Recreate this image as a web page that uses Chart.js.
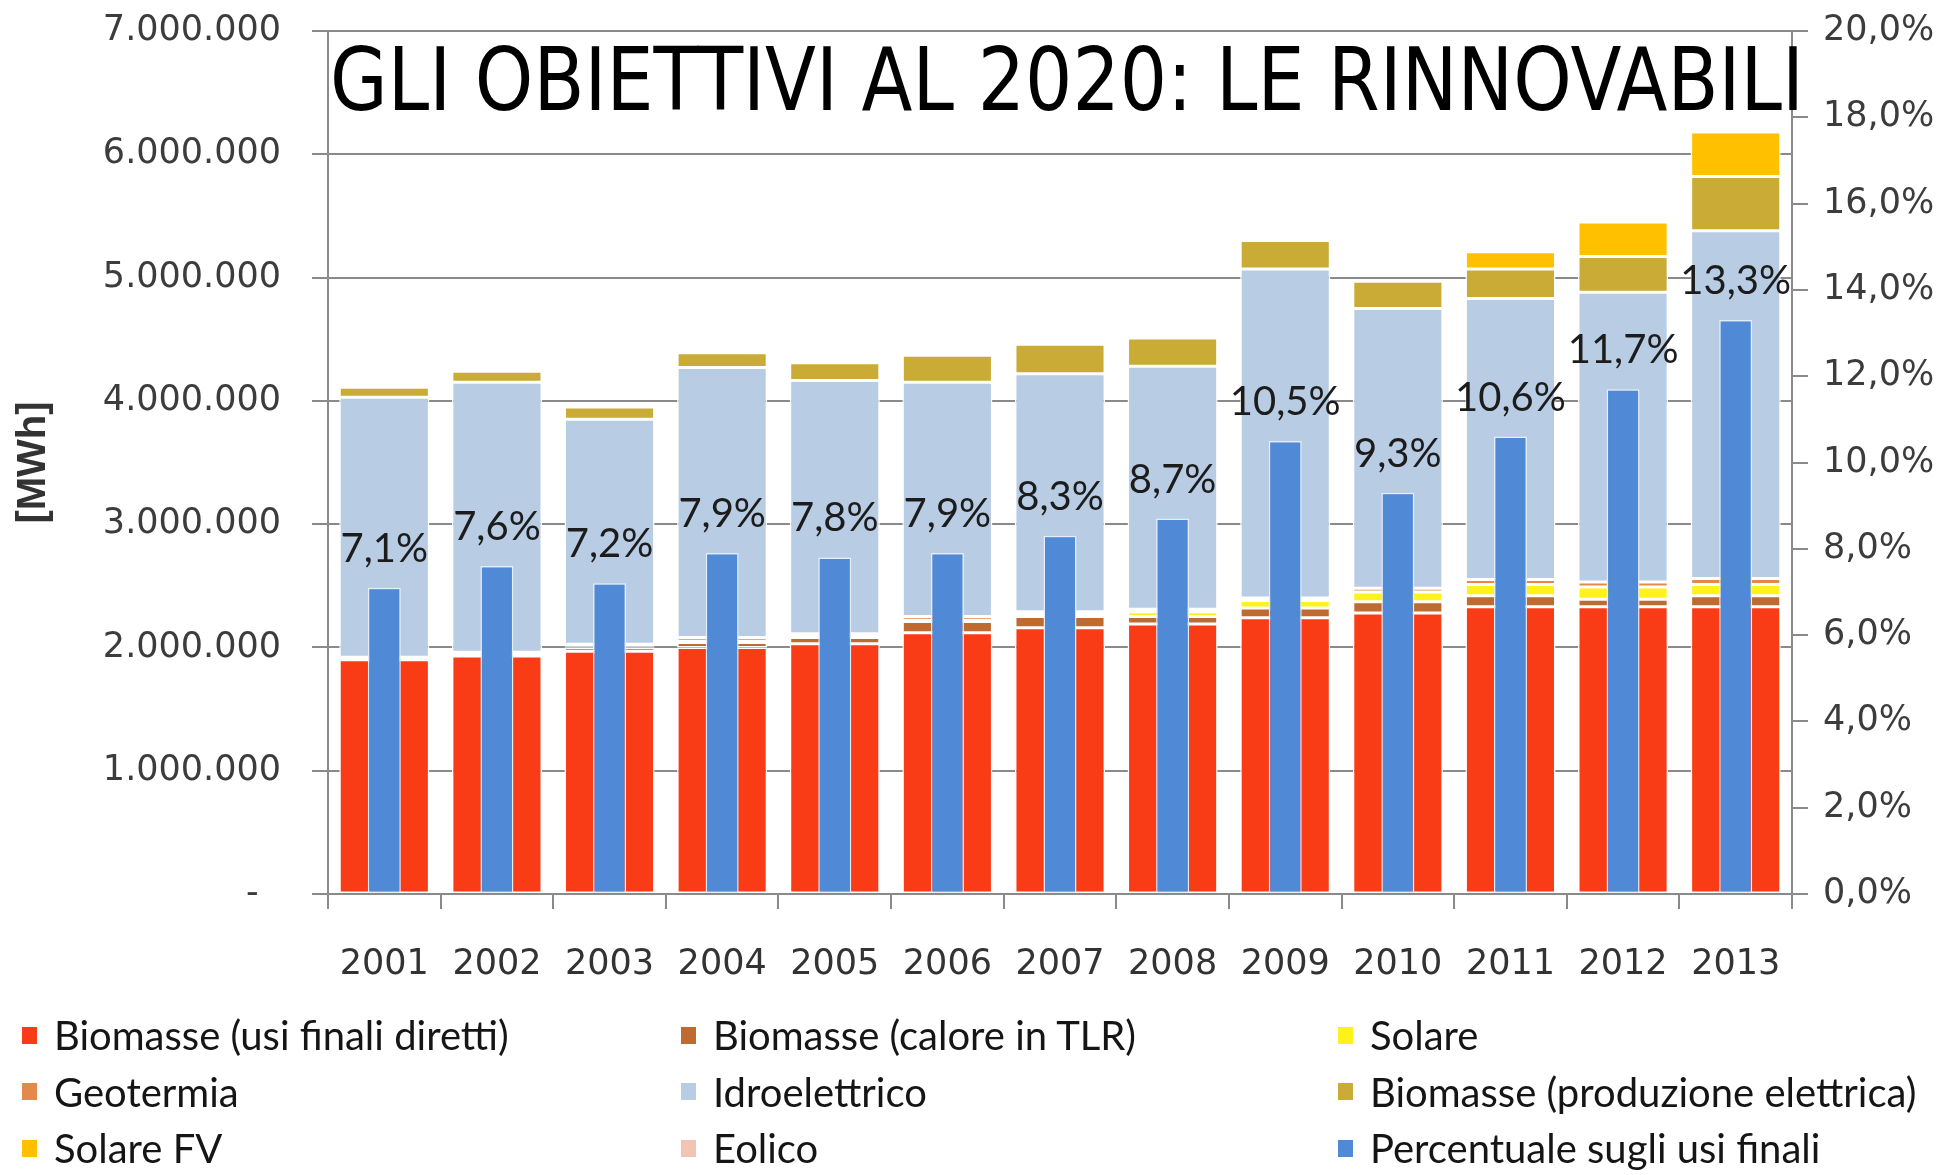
<!DOCTYPE html>
<html>
<head>
<meta charset="utf-8">
<title>Gli obiettivi al 2020: le rinnovabili</title>
<script src="https://cdn.jsdelivr.net/npm/chart.js@4.4.1/dist/chart.umd.min.js"></script>
<style>
  html, body { margin: 0; padding: 0; background: #fff; }
  #wrap { position: relative; width: 1955px; height: 1175px; overflow: hidden; }
  #chart { position: absolute; left: 0; top: 0; }
  #legend {
    position: absolute; left: 22px; top: 1007px;
    display: grid; grid-template-columns: 659px 657px 600px; grid-auto-rows: 56.5px;
    font-family: Lato, sans-serif; font-size: 40px; color: #151515;
  }
  .item { display: flex; align-items: center; white-space: nowrap; }
  .box { width: 15px; height: 17px; margin-right: 17px; flex: none; }
</style>
</head>
<body>
<div id="wrap">
  <canvas id="chart" width="1955" height="1175"></canvas>
  <div id="legend"></div>
</div>
<script>
const years = ['2001', '2002', '2003', '2004', '2005', '2006', '2007', '2008', '2009', '2010', '2011', '2012', '2013'];

// MWh
const biomasseDiretti = [1900000, 1930000, 1970000, 2000000, 2030000, 2120000, 2160000, 2190000, 2240000, 2280000, 2330000, 2330000, 2330000];
const biomasseTLR = [0, 0, 30000, 40000, 50000, 90000, 90000, 60000, 80000, 90000, 90000, 60000, 90000];
const solare = [5000, 10000, 5000, 10000, 10000, 10000, 20000, 40000, 60000, 80000, 90000, 100000, 90000];
const geotermia = [15000, 20000, 20000, 30000, 20000, 30000, 20000, 20000, 20000, 30000, 40000, 40000, 50000];
const idroelettrico = [2110000, 2190000, 1825000, 2190000, 2055000, 1900000, 1930000, 1970000, 2670000, 2270000, 2280000, 2350000, 2820000];
const biomasseElettrica = [80000, 90000, 100000, 120000, 145000, 220000, 240000, 230000, 230000, 220000, 240000, 290000, 440000];
const solareFV = [0, 0, 0, 0, 0, 0, 0, 0, 5000, 10000, 140000, 280000, 360000];
const eolico = [0, 0, 0, 0, 0, 0, 0, 0, 0, 0, 0, 0, 0];

// % on final uses (right axis)
const percentuale = [7.1, 7.6, 7.2, 7.9, 7.8, 7.9, 8.3, 8.7, 10.5, 9.3, 10.6, 11.7, 13.3];

const titleText = 'GLI OBIETTIVI AL 2020: LE RINNOVABILI';
const gridColor = '#8a8a8a';
const tickFont = { family: 'DejaVu Sans', size: 35 };

function itNumber(v) {
    return String(Math.round(v)).replace(/\B(?=(\d{3})+(?!\d))/g, '.');
}
function itPct(v, digits) {
    return v.toFixed(digits).replace('.', ',') + '%';
}

function stackSet(label, data, color) {
    return {
        label: label, data: data, backgroundColor: color,
        borderColor: '#ffffff', borderWidth: 1.5, borderSkipped: false,
        stack: 'mwh', yAxisID: 'y', grouped: false, order: 1,
        barPercentage: 0.8, categoryPercentage: 1.0
    };
}

const pctLabels = {
    id: 'pctLabels',
    afterDatasetsDraw(chart) {
        const ctx = chart.ctx;
        const idx = chart.data.datasets.findIndex(d => d.stack === 'pct');
        const meta = chart.getDatasetMeta(idx);
        ctx.save();
        ctx.font = '40px Lato';
        ctx.fillStyle = '#1c1c1c';
        ctx.textAlign = 'center';
        ctx.textBaseline = 'middle';
        meta.data.forEach((bar, i) => {
            ctx.fillText(itPct(percentuale[i], 1), bar.x, bar.y - 39);
        });
        ctx.restore();
    }
};

const bigTitle = {
    id: 'bigTitle',
    afterDraw(chart) {
        const ctx = chart.ctx;
        ctx.save();
        ctx.font = '500 88px "DejaVu Sans"';
        ctx.fillStyle = '#000';
        ctx.textBaseline = 'alphabetic';
        const w = ctx.measureText(titleText).width;
        ctx.translate(330, 110);
        ctx.scale(1474 / w, 1);
        ctx.fillText(titleText, 0, 0);
        ctx.restore();
    }
};

// tick padding also pushes the plot down in chart.js, keep only half a label
function trimPadding(s) {
    s.paddingTop = 21;
    s.paddingBottom = 21;
}

const chart = new Chart(document.getElementById('chart'), {
    type: 'bar',
    data: {
        labels: years,
        datasets: [
            stackSet('Biomasse (usi finali diretti)', biomasseDiretti, '#fa3c16'),
            stackSet('Biomasse (calore in TLR)', biomasseTLR, '#bf6a30'),
            stackSet('Solare', solare, '#fff21a'),
            stackSet('Geotermia', geotermia, '#e4894b'),
            stackSet('Idroelettrico', idroelettrico, '#b8cce4'),
            stackSet('Biomasse (produzione elettrica)', biomasseElettrica, '#c9ab35'),
            stackSet('Solare FV', solareFV, '#ffc000'),
            stackSet('Eolico', eolico, '#f2c4b2'),
            {
                label: 'Percentuale sugli usi finali', data: percentuale,
                backgroundColor: '#5089d6', borderColor: '#e4eefa', borderWidth: 1.5, borderSkipped: false,
                stack: 'pct', yAxisID: 'y1', grouped: false, order: 0,
                barPercentage: 0.293, categoryPercentage: 1.0
            }
        ]
    },
    options: {
        responsive: false,
        animation: false,
        layout: { padding: { top: 31, right: 0, bottom: 175, left: 0 } },
        plugins: {
            legend: { display: false },
            tooltip: { enabled: false }
        },
        scales: {
            x: {
                stacked: true,
                grid: { offset: true, drawOnChartArea: false, tickLength: 15, color: gridColor, lineWidth: 2 },
                border: { color: gridColor, width: 2 },
                ticks: { font: tickFont, color: '#333', padding: 35, maxRotation: 0 },
                afterFit: s => { s.height = 106; }
            },
            y: {
                position: 'left',
                stacked: true,
                min: 0, max: 7000000,
                ticks: {
                    stepSize: 1000000, font: tickFont, color: '#3c3c3c', padding: 31,
                    callback: v => v === 0 ? '-  ' : itNumber(v)
                },
                grid: { color: gridColor, lineWidth: 2, tickLength: 16 },
                border: { color: gridColor, width: 2 },
                title: {
                    display: true, text: '[MWh]', color: '#333',
                    font: { family: 'Liberation Sans', weight: 'bold', size: 40 },
                    padding: { top: 10, bottom: 0 }
                },
                afterFit: s => { s.width = 328; trimPadding(s); }
            },
            y1: {
                position: 'right',
                min: 0, max: 20,
                ticks: {
                    stepSize: 2, font: tickFont, color: '#3c3c3c', padding: 15,
                    callback: v => itPct(v, 1)
                },
                grid: { drawOnChartArea: false, color: gridColor, lineWidth: 2, tickLength: 16 },
                border: { color: gridColor, width: 2 },
                afterFit: s => { s.width = 163; trimPadding(s); }
            }
        }
    },
    plugins: [pctLabels, bigTitle]
});

// legend in three columns, row by row, like the original
const legendEl = document.getElementById('legend');
chart.data.datasets.forEach(ds => {
    const item = document.createElement('div');
    item.className = 'item';
    const box = document.createElement('span');
    box.className = 'box';
    box.style.background = ds.backgroundColor;
    const txt = document.createElement('span');
    txt.textContent = ds.label;
    item.appendChild(box);
    item.appendChild(txt);
    legendEl.appendChild(item);
});
</script>
</body>
</html>
